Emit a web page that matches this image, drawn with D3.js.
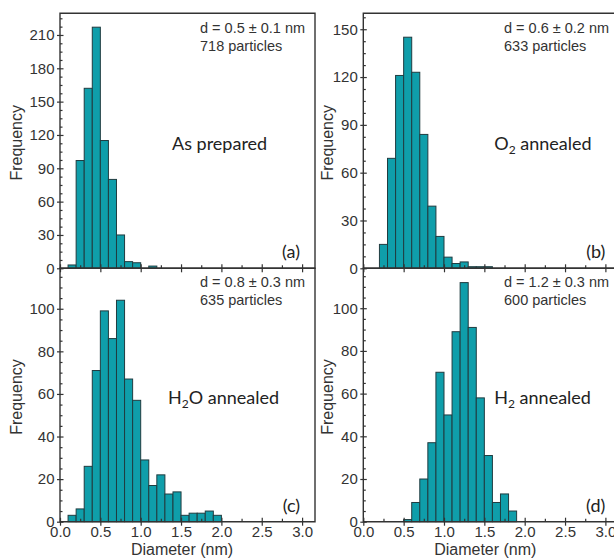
<!DOCTYPE html>
<html><head><meta charset="utf-8">
<script src="https://cdn.jsdelivr.net/npm/d3@7"></script>
<style>
html,body{margin:0;padding:0;background:#fff;}
svg{display:block;}
</style></head>
<body>
<svg id="chart" width="614" height="558"></svg>
<script>
// ---------- DATA ----------
const binWidth = 0.1;
// (a) As prepared
const binsA   = [0.1,0.2,0.3,0.4,0.5,0.6,0.7,0.8,0.9,1.0,1.1];
const countsA = [3,97,162,217,115,80,30,6,5,0,2];
// (b) O2 annealed
const binsB   = [0.2,0.3,0.4,0.5,0.6,0.7,0.8,0.9,1.0,1.1,1.2,1.3,1.4,1.5];
const countsB = [15,69,121,145,123,84,39,20,7,3,4,1,1,1];
// (c) H2O annealed
const binsC   = [0.1,0.2,0.3,0.4,0.5,0.6,0.7,0.8,0.9,1.0,1.1,1.2,1.3,1.4,1.5,1.6,1.7,1.8,1.9];
const countsC = [3,6,26,71,99,86,104,67,57,29,17,22,13,14,3,4,4,5,3];
// (d) H2 annealed
const binsD   = [0.5,0.6,0.7,0.8,0.9,1.0,1.1,1.2,1.3,1.4,1.5,1.6,1.7,1.8];
const countsD = [1,9,20,37,70,50,89,112,91,58,31,9,13,5];

const yTicksA = [0,30,60,90,120,150,180,210];
const yTicksB = [0,30,60,90,120,150];
const yTicksC = [0,20,40,60,80,100];
const yTicksD = [0,20,40,60,80,100];
const yMinorStep = [7.5, 7.5, 5, 5];
const yMax = [229.5, 160, 119, 118.7];

const xTicks = [0.0,0.5,1.0,1.5,2.0,2.5,3.0];
const xMinor = [0.25,0.75,1.25,1.75,2.25,2.75];
const xMax = 3.16;

const statsText = ["d = 0.5 \u00B1 0.1 nm","d = 0.6 \u00B1 0.2 nm","d = 0.8 \u00B1 0.3 nm","d = 1.2 \u00B1 0.3 nm"];
const countText = ["718 particles","633 particles","635 particles","600 particles"];
const sampleMain = ["As prepared","O","H","H"];
const sampleSub  = ["","2","2","2"];
const sampleRest = [""," annealed","O annealed"," annealed"];
const panelLetters = ["(a)","(b)","(c)","(d)"];

// ---------- LAYOUT ----------
const svg = d3.select("#chart");
const layout = [
  {left:60,    top:13.3,  bottom:268.3, width:255, xlab:false},
  {left:363.3, top:13.3,  bottom:268.3, width:255, xlab:false},
  {left:60,    top:268.3, bottom:521.7, width:255, xlab:true},
  {left:363.3, top:268.3, bottom:521.7, width:255, xlab:true}
];
const binsAll = [binsA,binsB,binsC,binsD];
const countsAll = [countsA,countsB,countsC,countsD];
const yTicksAll = [yTicksA,yTicksB,yTicksC,yTicksD];

const barFill = "#0f9eaa", barStroke = "#203c40", axisCol = "#333";
const numFont = "'Liberation Sans', Arial, sans-serif";
const labFont = "Lato, 'Open Sans', sans-serif";

layout.forEach((L,i) => {
  const x = d3.scaleLinear().domain([0,xMax]).range([L.left, L.left+L.width]);
  const y = d3.scaleLinear().domain([0,yMax[i]]).range([L.bottom, L.top]);
  const g = svg.append("g");

  // bars
  const data = binsAll[i].map((b,k)=>({x0:b, n:countsAll[i][k]})).filter(d=>d.n>0);
  g.selectAll("rect.bar").data(data).join("rect")
    .attr("x", d=>x(d.x0)).attr("width", d=>x(d.x0+binWidth)-x(d.x0))
    .attr("y", d=>y(d.n)).attr("height", d=>y(0)-y(d.n))
    .attr("fill", barFill).attr("stroke", barStroke).attr("stroke-width", 1);

  // frame
  g.append("path")
    .attr("d", `M${L.left},${L.bottom}V${L.top}H${L.left+L.width}V${L.bottom}Z`)
    .attr("fill","none").attr("stroke",axisCol).attr("stroke-width",1.4);

  // y axis: labels + outward major ticks
  const yt = yTicksAll[i];
  const ax = g.append("g").attr("transform",`translate(${L.left},0)`)
    .call(d3.axisLeft(y).tickValues(yt).tickSize(3).tickPadding(2.5).tickFormat(d3.format("d")));
  const ax2 = g.append("g").attr("transform",`translate(${L.left},0)`)
    .call(d3.axisLeft(y).tickValues(yt).tickSizeInner(-3.5).tickFormat(""));
  const minors = d3.range(0, yMax[i], yMinorStep[i]).filter(v => !yt.includes(v) && v>0);
  const ax3 = g.append("g").attr("transform",`translate(${L.left},0)`)
    .call(d3.axisLeft(y).tickValues(minors).tickSizeInner(-2.5).tickFormat(""));
  [ax,ax2,ax3].forEach(a=>{
    a.select(".domain").remove();
    a.selectAll("line").attr("stroke",axisCol).attr("stroke-width",1.2);
    a.selectAll("text").attr("fill",axisCol).style("font-family",numFont).style("font-size","15px");
  });

  // x axis
  const bx = g.append("g").attr("transform",`translate(0,${L.bottom})`)
    .call(d3.axisBottom(x).tickValues(xTicks).tickSize(4).tickPadding(1)
      .tickFormat(L.xlab ? d3.format(".1f") : ""));
  const bx2 = g.append("g").attr("transform",`translate(0,${L.bottom})`)
    .call(d3.axisBottom(x).tickValues(xTicks).tickSizeInner(-4).tickFormat(""));
  const bx3 = g.append("g").attr("transform",`translate(0,${L.bottom})`)
    .call(d3.axisBottom(x).tickValues(xMinor).tickSizeInner(-3).tickFormat(""));
  [bx,bx2,bx3].forEach(a=>{
    a.select(".domain").remove();
    a.selectAll("line").attr("stroke",axisCol).attr("stroke-width",1.2);
    a.selectAll("text").attr("fill",axisCol).style("font-family",numFont).style("font-size","15px");
  });

  // Frequency label
  const cy = (L.top + L.bottom)/2 + 2;
  g.append("text").attr("transform",`translate(${L.left + (i%2 ? -30.5 : -38.5)},${cy}) rotate(-90)`)
    .attr("text-anchor","middle").attr("fill",axisCol)
    .style("font-family",numFont).style("font-size","16px").text("Frequency");

  if (L.xlab) {
    g.append("text").attr("x", L.left+122).attr("y", 555)
      .attr("text-anchor","middle").attr("fill",axisCol)
      .style("font-family",numFont).style("font-size","16px").text("Diameter (nm)");
  }

  // stats
  const sx = L.left + (i%2 ? 140.7 : 140);
  const sy = L.top + (i<2 ? 20 : 19);
  g.append("text").attr("x",sx).attr("y",sy).attr("fill",axisCol)
    .style("font-family",numFont).style("font-size","14.5px").text(statsText[i]);
  g.append("text").attr("x",sx).attr("y",sy+18).attr("fill",axisCol)
    .style("font-family",numFont).style("font-size","14.5px").text(countText[i]);

  // sample label
  const lx = L.left + (i===0 ? 112 : i===1 ? 131 : i===2 ? 108 : 131);
  const ly = L.top + (i<2 ? 137 : 136);
  const t = g.append("text").attr("x",lx).attr("y",ly).attr("fill","#222")
    .style("font-family",labFont).style("font-size","18px");
  t.append("tspan").text(sampleMain[i]);
  if (sampleSub[i]) {
    t.append("tspan").attr("dy",4).style("font-size","12px").text(sampleSub[i]);
    t.append("tspan").attr("dy",-4).text(sampleRest[i]);
  }

  // panel letter
  g.append("text").attr("x", L.left + (i%2 ? 242 : 240)).attr("y", L.bottom - 10)
    .attr("text-anchor","end").attr("fill","#222")
    .style("font-family",labFont).style("font-size","18px").text(panelLetters[i]);
});
</script>
</body></html>
